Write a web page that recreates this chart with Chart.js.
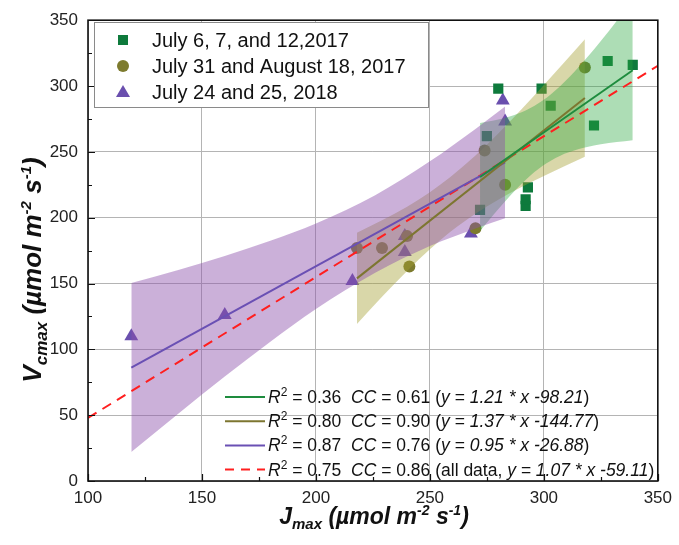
<!DOCTYPE html>
<html>
<head>
<meta charset="utf-8">
<script src="https://cdn.jsdelivr.net/npm/chart.js@4.4.1/dist/chart.umd.min.js"></script>
<style>
  html, body { margin: 0; padding: 0; background: #fff; }
  #wrap { width: 679px; height: 545px; }
</style>
</head>
<body>
<div id="wrap"><canvas id="vcJ" width="679" height="545"></canvas></div>
<script>
/* -------------------------------------------------------
   DATA: measured points (Jmax, Vcmax) per campaign
------------------------------------------------------- */
const groupLabels = ["July 6, 7, and 12,2017", "July 31 and August 18, 2017", "July 24 and 25, 2018"];

const set1X = [272, 275, 280, 292, 292, 293, 299, 303, 322, 328, 339];
const set1Y = [206, 262, 298, 209, 214, 223, 298, 285, 270, 319, 316];

const set2X = [218, 229, 240, 241, 270, 274, 283, 318];
const set2Y = [177, 177, 186, 163, 192, 251, 225, 314];

const set3X = [119, 160, 216, 239, 239, 268, 282, 283];
const set3Y = [110, 126, 152, 174, 186, 188, 289, 273];

/* -------------------------------------------------------
   DATA: fitted lines (end points)
------------------------------------------------------- */
const fit1X = [272, 339];   const fit1Y = [230.9, 312.0];
const fit2X = [218, 318];   const fit2Y = [153.9, 290.9];
const fit3X = [119, 283];   const fit3Y = [86.2, 242.0];
const fitAllX = [100, 350]; const fitAllY = [47.9, 315.4];

/* -------------------------------------------------------
   DATA: confidence bands (upper / lower edges)
------------------------------------------------------- */
const band1X = [272, 278, 285, 292, 299.5, 307, 315, 325, 339];
const band1Hi = [272, 273.9, 276.9, 281.5, 289, 299.7, 313.9, 334.2, 365.2];
const band1Lo = [189.8, 202.5, 216.3, 228.7, 239.4, 246.9, 251.9, 255.8, 258.8];

const band2X = [218, 229, 240, 250, 259, 270, 280, 290, 300, 318];
const band2Hi = [188.5, 198.0, 208.4, 219.4, 230.9, 247.2, 263.9, 281.9, 300.7, 335.6];
const band2Lo = [119.3, 140.0, 159.6, 176.0, 189.3, 203.0, 213.7, 223.1, 231.7, 246.2];

const band3X = [119, 140, 160, 180, 200, 226, 250, 270, 283];
const band3Hi = [150.4, 160.5, 170.9, 182.4, 195.6, 217.1, 242.8, 267.4, 284.5];
const band3Lo = [22.0, 51.7, 79.3, 105.8, 130.6, 158.1, 178.4, 191.8, 199.5];

/* -------------------------------------------------------
   DATA: legend texts for the fits
------------------------------------------------------- */
const fitStats = [
  ["0.36", "0.61", "(", "y = 1.21 * x -98.21"],
  ["0.80", "0.90", "(", "y = 1.37 * x -144.77"],
  ["0.87", "0.76", "(", "y = 0.95 * x -26.88"],
  ["0.75", "0.86", "(all data, ", "y = 1.07 * x -59.11"],
];

const FONT = '"Liberation Sans", Arial, Helvetica, sans-serif';
const GREEN = "#0e7a3c", OLIVE = "#7d7b2e", PURPLE = "#6a4fae";
const LINE_COLORS = ["#1e8c3e", "#7d7630", "#6a50b4", "#ff1f1f"];

const pts = (xs, ys) => xs.map((x, i) => ({ x: x, y: ys[i] }));

/* draw a run of text pieces: [text, size, style, dy] */
function drawRich(ctx, parts, x, y, align) {
  let w = 0;
  parts.forEach((p) => {
    ctx.font = p[2] + " " + p[1] + "px " + FONT;
    w += ctx.measureText(p[0]).width;
  });
  let cx = align === "center" ? x - w / 2 : x;
  parts.forEach((p) => {
    ctx.font = p[2] + " " + p[1] + "px " + FONT;
    ctx.fillText(p[0], cx, y + (p[3] || 0));
    cx += ctx.measureText(p[0]).width;
  });
}

function marker(ctx, kind, x, y, color) {
  ctx.fillStyle = color;
  ctx.beginPath();
  if (kind === "rect") {
    ctx.rect(x - 5, y - 5, 10, 10);
  } else if (kind === "circle") {
    ctx.arc(x, y, 6, 0, Math.PI * 2);
  } else {
    ctx.moveTo(x, y - 7);
    ctx.lineTo(x + 7, y + 5);
    ctx.lineTo(x - 7, y + 5);
    ctx.closePath();
  }
  ctx.fill();
}

/* -------------------------------------------------------
   PLUGIN: frame, inward ticks, legends, axis titles
------------------------------------------------------- */
const decorations = {
  id: "decorations",
  afterDatasetsDraw(chart) {
    const { ctx, chartArea: a, scales } = chart;
    const x = scales.x, y = scales.y;
    ctx.save();

    // inward ticks
    ctx.strokeStyle = "#111";
    ctx.lineWidth = 1.2;
    ctx.beginPath();
    for (let v = 100; v <= 350; v += 25) {
      const px = Math.round(x.getPixelForValue(v)) + 0.5;
      const len = v % 50 === 0 ? 7 : 4;
      ctx.moveTo(px, a.bottom);
      ctx.lineTo(px, a.bottom - len);
    }
    for (let v = 0; v <= 350; v += 25) {
      const py = Math.round(y.getPixelForValue(v)) + 0.5;
      const len = v % 50 === 0 ? 7 : 4;
      ctx.moveTo(a.left, py);
      ctx.lineTo(a.left + len, py);
    }
    ctx.stroke();

    // frame
    ctx.lineWidth = 1.6;
    ctx.strokeRect(a.left, a.top, a.right - a.left, a.bottom - a.top);

    // top-left legend
    ctx.fillStyle = "#fff";
    ctx.fillRect(94, 22, 334, 85);
    ctx.strokeStyle = "#8a8a8a";
    ctx.lineWidth = 1;
    ctx.strokeRect(94.5, 22.5, 334, 85);
    const kinds = ["rect", "circle", "triangle"];
    const cols = [GREEN, OLIVE, PURPLE];
    ctx.textBaseline = "alphabetic";
    ctx.textAlign = "left";
    groupLabels.forEach((lab, i) => {
      const cy = 40 + i * 26;
      marker(ctx, kinds[i], 123, cy, cols[i]);
      ctx.fillStyle = "#111";
      ctx.font = "20px " + FONT;
      ctx.fillText(lab, 152, cy + 7);
    });

    // bottom-right legend for fits
    fitStats.forEach((s, i) => {
      const cy = 397 + i * 24.2;
      ctx.strokeStyle = LINE_COLORS[i];
      ctx.lineWidth = 2;
      ctx.setLineDash(i === 3 ? [9, 7] : []);
      ctx.beginPath();
      ctx.moveTo(225, cy);
      ctx.lineTo(265, cy);
      ctx.stroke();
      ctx.setLineDash([]);
      ctx.fillStyle = "#111";
      drawRich(ctx, [
        ["R", 17.5, "italic", 0],
        ["2", 12, "normal", -7],
        [" = " + s[0] + "  ", 17.5, "normal", 0],
        ["CC", 17.5, "italic", 0],
        [" = " + s[1] + " " + s[2], 17.5, "normal", 0],
        [s[3], 17.5, "italic", 0],
        [")", 17.5, "normal", 0],
      ], 268, cy + 6, "left");
    });

    // axis titles
    ctx.fillStyle = "#111";
    drawRich(ctx, [
      ["J", 23, "italic bold", 0],
      ["max", 15, "italic bold", 5],
      [" (\u00b5mol m", 23, "italic bold", 0],
      ["-2", 14, "italic bold", -9],
      [" s", 23, "italic bold", 0],
      ["-1", 14, "italic bold", -9],
      [")", 23, "italic bold", 0],
    ], 374, 524, "center");

    ctx.translate(41, 270);
    ctx.rotate(-Math.PI / 2);
    drawRich(ctx, [
      ["V", 26, "italic bold", 0],
      ["cmax", 17, "italic bold", 6],
      [" (\u00b5mol m", 26, "italic bold", 0],
      ["-2", 15, "italic bold", -10],
      [" s", 26, "italic bold", 0],
      ["-1", 15, "italic bold", -10],
      [")", 26, "italic bold", 0],
    ], 0, 0, "center");

    ctx.restore();
  },
};

/* -------------------------------------------------------
   DATASETS
------------------------------------------------------- */
function fitLine(xs, ys, color, dash) {
  return {
    data: pts(xs, ys),
    showLine: true,
    borderColor: color,
    borderWidth: 2,
    borderDash: dash || [],
    pointRadius: 0,
    order: 0,
  };
}

function bandPair(xs, hi, lo, fillColor) {
  const common = {
    showLine: true,
    borderWidth: 0,
    borderColor: "rgba(0,0,0,0)",
    pointRadius: 0,
    tension: 0.4,
    cubicInterpolationMode: "monotone",
    order: 1,
  };
  return [
    Object.assign({ data: pts(xs, hi), fill: "+1", backgroundColor: fillColor }, common),
    Object.assign({ data: pts(xs, lo), fill: false }, common),
  ];
}

function pointSet(xs, ys, style, radius, color) {
  return {
    data: pts(xs, ys),
    showLine: false,
    pointStyle: style,
    pointRadius: radius,
    pointBackgroundColor: color,
    pointBorderWidth: 0,
    order: 2,
  };
}

/* bands: first listed is drawn on top */
const datasets = [
  fitLine(fit1X, fit1Y, LINE_COLORS[0]),
  fitLine(fit2X, fit2Y, LINE_COLORS[1]),
  fitLine(fit3X, fit3Y, LINE_COLORS[2]),
  fitLine(fitAllX, fitAllY, LINE_COLORS[3], [10, 7]),
  ...bandPair(band3X, band3Hi, band3Lo, "rgba(140,80,170,0.45)"),
  ...bandPair(band1X, band1Hi, band1Lo, "rgba(40,165,60,0.38)"),
  ...bandPair(band2X, band2Hi, band2Lo, "rgba(165,160,50,0.42)"),
  pointSet(set1X, set1Y, "rect", 7.2, GREEN),
  pointSet(set2X, set2Y, "circle", 6, OLIVE),
  pointSet(set3X, set3Y, "triangle", 8, PURPLE),
];

new Chart(document.getElementById("vcJ"), {
  type: "scatter",
  data: { datasets: datasets },
  options: {
    responsive: false,
    animation: false,
    layout: { padding: { left: 0, right: 19, top: 20, bottom: 0 } },
    plugins: { legend: { display: false }, tooltip: { enabled: false } },
    scales: {
      x: {
        type: "linear",
        min: 100,
        max: 350,
        ticks: { stepSize: 50, color: "#222", font: { size: 17, family: FONT }, padding: 7, maxRotation: 0 },
        grid: { color: "#b4b4b4", lineWidth: 1, drawTicks: false },
        border: { display: false },
        afterFit: (s) => { s.height = 64; },
      },
      y: {
        type: "linear",
        min: 0,
        max: 350,
        ticks: { stepSize: 50, color: "#222", font: { size: 17, family: FONT }, padding: 10 },
        grid: { color: "#b4b4b4", lineWidth: 1, drawTicks: false },
        border: { display: false },
        afterFit: (s) => { s.width = 88; },
      },
    },
  },
  plugins: [decorations],
});
</script>
</body>
</html>
